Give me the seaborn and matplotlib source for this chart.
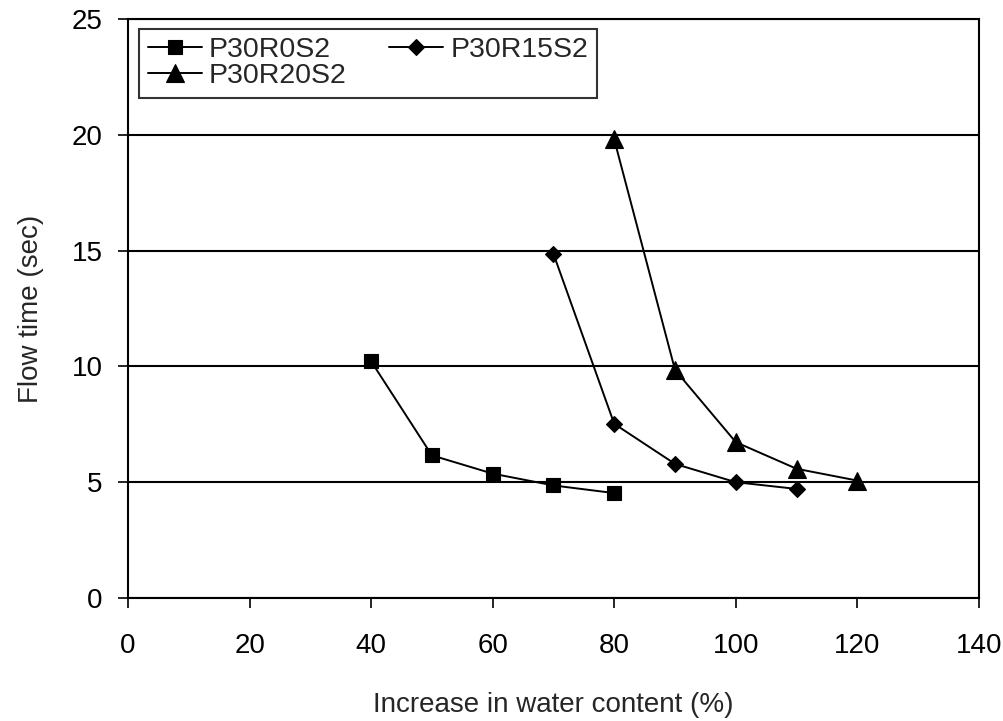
import matplotlib
matplotlib.use("Agg")
import matplotlib.pyplot as plt
import seaborn as sns
import pandas as pd

x_r0 = [40, 50, 60, 70, 80]
y_r0 = [10.22, 6.16, 5.37, 4.86, 4.53]
x_r15 = [70, 80, 90, 100, 110]
y_r15 = [14.86, 7.52, 5.79, 5.0, 4.71]
x_r20 = [80, 90, 100, 110, 120]
y_r20 = [19.8, 9.85, 6.73, 5.58, 5.07]
series_names = ["P30R0S2", "P30R15S2", "P30R20S2"]

frames = []
for name, xs, ys in zip(series_names, [x_r0, x_r15, x_r20], [y_r0, y_r15, y_r20]):
    frames.append(pd.DataFrame({"x": xs, "y": ys, "series": name}))
df = pd.concat(frames, ignore_index=True)

sns.set_style("white")
plt.rcParams["font.family"] = ["Liberation Sans", "DejaVu Sans"]

fig = plt.figure(figsize=(10.04, 7.21), dpi=100)
ax = fig.add_axes([0.1275, 0.1706, 0.975 - 0.1275, 0.9736 - 0.1706])

sizes = {"s": 10.5, "D": 7.8, "^": 12.5}

sns.lineplot(data=df, x="x", y="y", hue="series", style="series",
             palette=["black"] * 3, markers=["s", "D", "^"], dashes=False,
             linewidth=1.4, markeredgecolor="black", markeredgewidth=0.8,
             ax=ax, legend=True)
for line in ax.lines:
    m = line.get_marker()
    if m in sizes:
        line.set_markersize(sizes[m])

ax.set_xlim(0, 140)
ax.set_ylim(0, 25)
ax.set_xticks(range(0, 141, 20))
ax.set_yticks(range(0, 26, 5))
ax.yaxis.grid(True, color="black", linewidth=1.5)
ax.xaxis.grid(False)
for s in ax.spines.values():
    s.set_color("black")
    s.set_linewidth(1.5)
ax.tick_params(axis="both", direction="out", length=7.2, width=1.2, color="black",
               labelsize=20, labelcolor="black", bottom=True, left=True)
ax.tick_params(axis="x", pad=18)
ax.tick_params(axis="y", pad=11)
ax.set_xlabel("Increase in water content (%)", fontsize=20, labelpad=24)
ax.set_ylabel("Flow time (sec)", fontsize=20, labelpad=20)

handles, labels = ax.get_legend_handles_labels()
for h in handles:
    m = h.get_marker()
    if m in sizes:
        h.set_markersize(sizes[m])
order = [0, 2, 1]
handles = [handles[i] for i in order]
labels = [labels[i] for i in order]
leg = ax.legend(handles, labels, loc="upper left", ncol=2, fontsize=20.5,
                frameon=True, fancybox=False, edgecolor="black",
                bbox_to_anchor=(0.0129, 0.983), borderpad=0.3,
                borderaxespad=0,
                handlelength=1.9, handletextpad=0.25, columnspacing=1.5,
                labelspacing=0.0)
leg.get_frame().set_linewidth(1.5)

fig.savefig("out.png", dpi=100, facecolor="white")
